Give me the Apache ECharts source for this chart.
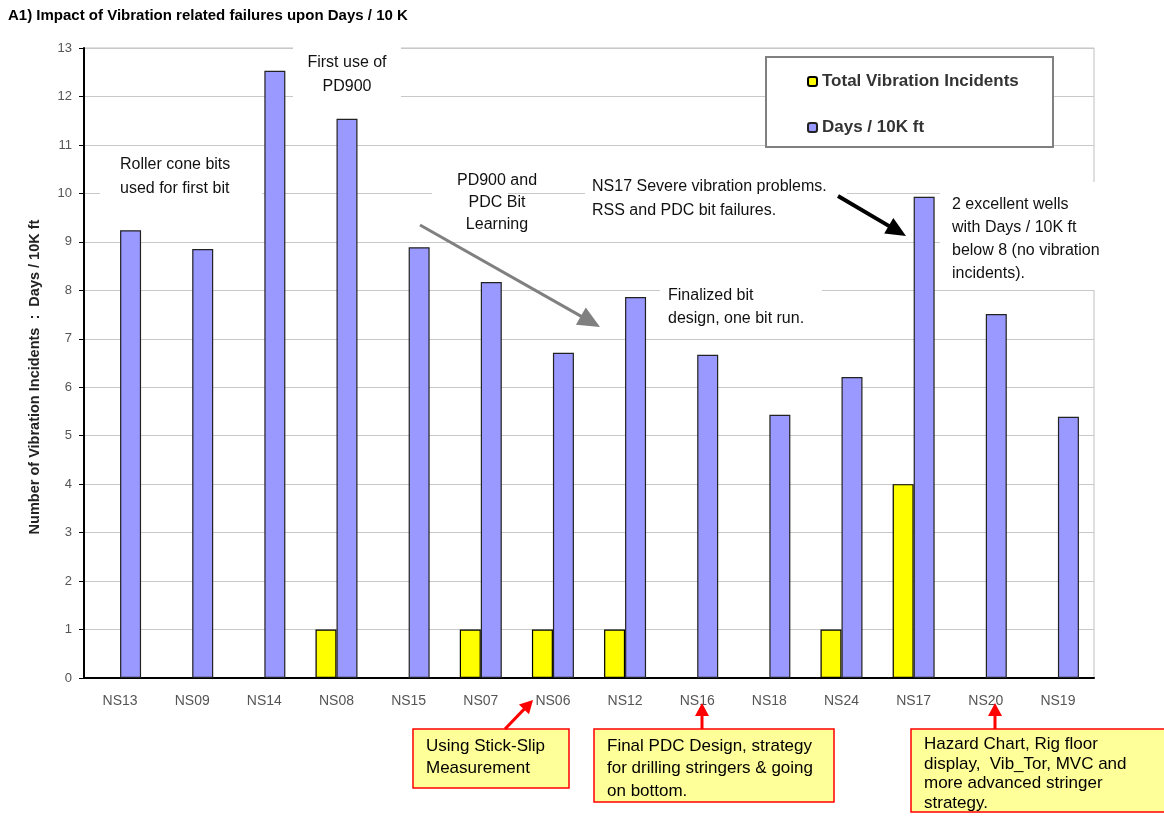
<!DOCTYPE html>
<html>
<head>
<meta charset="utf-8">
<script src="https://cdn.jsdelivr.net/npm/echarts@6/dist/echarts.min.js"></script>
<style>
html,body{margin:0;padding:0;background:#fff;}
#main{width:1164px;height:817px;}
</style>
</head>
<body>
<div id="main"></div>
<script>
// 井号
var wells = ['NS13','NS09','NS14','NS08','NS15','NS07','NS06','NS12','NS16','NS18','NS24','NS17','NS20','NS19'];
// 振动事故次数
var incidents = [0,0,0,1,0,1,1,1,0,0,1,4,0,0];
// 天数 / 10K ft
var daysPer10k = [9.24,8.85,12.53,11.54,8.89,8.17,6.71,7.86,6.67,5.43,6.21,9.93,7.51,5.39];
var yTicks = [0,13,1];

var font = 'Liberation Sans, Arial, sans-serif';

//箭头
function arrow(x1, y1, x2, y2, color, width, headLen, headW) {
    var dx = x2 - x1, dy = y2 - y1;
    var len = Math.sqrt(dx * dx + dy * dy);
    var ux = dx / len, uy = dy / len;
    var bx = x2 - ux * headLen, by = y2 - uy * headLen;
    return [{
        type: 'line', z: 80,
        shape: {x1: x1, y1: y1, x2: bx + ux * 2, y2: by + uy * 2},
        style: {stroke: color, lineWidth: width}
    }, {
        type: 'polygon', z: 80,
        shape: {points: [[x2, y2], [bx - uy * headW, by + ux * headW], [bx + uy * headW, by - ux * headW]]},
        style: {fill: color}
    }];
}

//白底说明文字
function note(bx, by, bw, bh, tx, ty, text, align, lh) {
    return [{
        type: 'rect', z: 45, shape: {x: bx, y: by, width: bw, height: bh}, style: {fill: '#fff'}
    }, {
        type: 'text', z: 50, x: tx, y: ty,
        style: {text: text, font: '16px ' + font, fill: '#111', align: align, lineHeight: lh}
    }];
}

//黄色标注框
function callout(x, y, w, h, text, lh) {
    return [{
        type: 'rect', z: 70, shape: {x: x, y: y, width: w, height: h},
        style: {fill: '#ffff99'}
    }, {
        type: 'text', z: 71, x: x + 13, y: y + 6,
        style: {text: text, font: '17px ' + font, fill: '#000', lineHeight: lh}
    }, {
        type: 'rect', z: 72, shape: {x: x - 2, y: y + h, width: w + 4, height: 20},
        style: {fill: '#fff'}
    }, {
        type: 'rect', z: 73, shape: {x: x, y: y, width: w, height: h},
        style: {fill: null, stroke: '#ff0000', lineWidth: 1.5}
    }];
}

var graphics = [
    {type: 'text', left: 8, top: 8, style: {text: 'A1) Impact of Vibration related failures upon Days / 10 K', font: 'bold 15px ' + font, fill: '#000'}},
    {type: 'text', x: 35, y: 377, rotation: Math.PI / 2, style: {text: 'Number of Vibration Incidents  :  Days / 10K ft', font: 'bold 14.5px ' + font, fill: '#222', align: 'center', verticalAlign: 'middle'}},
    {type: 'rect', z: 40, shape: {x: 766, y: 57, width: 287, height: 90}, style: {fill: '#fff', stroke: '#808080', lineWidth: 2}}
];
graphics = graphics
    .concat(note(293, 44, 108, 55, 347, 51, 'First use of\nPD900', 'center', 24))
    .concat(note(100, 150, 162, 52, 120, 153, 'Roller cone bits\nused for first bit', 'left', 24))
    .concat(note(432, 166, 76, 74, 497, 170, 'PD900 and\nPDC Bit\nLearning', 'center', 22))
    .concat(note(585, 172, 262, 52, 592, 175, 'NS17 Severe vibration problems.\nRSS and PDC bit failures.', 'left', 24))
    .concat(note(660, 283, 162, 50, 668, 284, 'Finalized bit\ndesign, one bit run.', 'left', 23))
    .concat(note(940, 182, 180, 108, 952, 193, '2 excellent wells\nwith Days / 10K ft\nbelow 8 (no vibration\nincidents).', 'left', 23))
    .concat(callout(413, 729, 156, 59, 'Using Stick-Slip\nMeasurement', 22))
    .concat(callout(594, 729, 240, 73, 'Final PDC Design, strategy\nfor drilling stringers & going\non bottom.', 22.5))
    .concat(callout(911, 729, 260, 83, 'Hazard Chart, Rig floor\ndisplay,  Vib_Tor, MVC and\nmore advanced stringer\nstrategy.', 19.5))
    .concat(arrow(420, 225, 600, 327, '#808080', 3, 22, 10))
    .concat(arrow(838, 196, 906, 236, '#000', 4, 20, 9))
    .concat(arrow(505, 729, 533, 700, '#ff0000', 3, 13, 7))
    .concat(arrow(702, 729, 702, 703, '#ff0000', 3, 13, 7))
    .concat(arrow(995, 729, 995, 703, '#ff0000', 3, 13, 7));

var chart = echarts.init(document.getElementById('main'));
var option = {
    animation: false,
    backgroundColor: '#fff',
    grid: {
        left: 84, right: 70, top: 48, bottom: 139,
        show: true, borderColor: '#c0c0c0', borderWidth: 1
    },
    legend: {
        left: 802, top: 68, orient: 'vertical', itemGap: 29,
        itemWidth: 9, itemHeight: 9, z: 50,
        textStyle: {fontFamily: font, fontWeight: 'bold', fontSize: 17, color: '#333'},
        data: ['Total Vibration Incidents', 'Days / 10K ft']
    },
    xAxis: {
        type: 'category',
        data: wells,
        axisLine: {lineStyle: {color: '#000', width: 2}},
        axisTick: {length: 5, lineStyle: {color: '#000'}},
        axisLabel: {margin: 16, color: '#555', fontFamily: font, fontSize: 14}
    },
    yAxis: {
        type: 'value',
        min: yTicks[0], max: yTicks[1], interval: yTicks[2],
        axisLine: {show: true, lineStyle: {color: '#000', width: 2}},
        axisTick: {show: true, length: 5, lineStyle: {color: '#000'}},
        axisLabel: {margin: 12, color: '#555', fontFamily: font, fontSize: 13},
        splitLine: {lineStyle: {color: '#c8c8c8'}}
    },
    series: [{
        name: 'Total Vibration Incidents',
        type: 'bar',
        data: incidents,
        barWidth: 21,
        barGap: '0%',
        itemStyle: {color: '#ffff00', borderColor: '#000', borderWidth: 1.2}
    }, {
        name: 'Days / 10K ft',
        type: 'bar',
        data: daysPer10k,
        barWidth: 21,
        itemStyle: {color: '#9999ff', borderColor: '#222', borderWidth: 1.2}
    }],
    graphic: graphics
};
chart.setOption(option);
</script>
</body>
</html>
